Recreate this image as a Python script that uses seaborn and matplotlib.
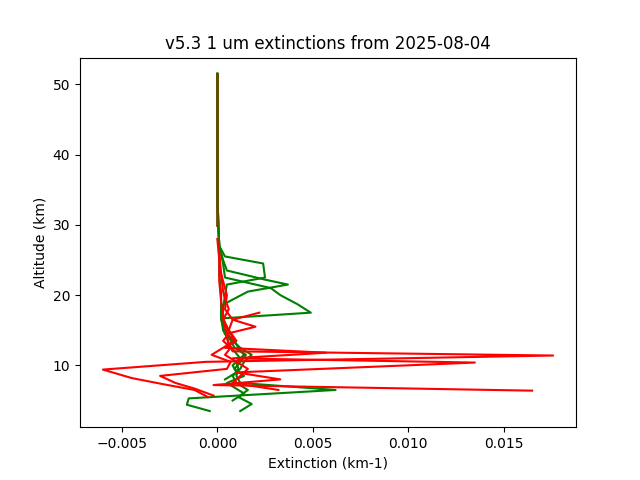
import matplotlib
matplotlib.use("Agg")
import matplotlib.pyplot as plt
import seaborn as sns
import pandas as pd

top = [27, 30, 35, 40, 45, 51.5]
topv = [0.0001, 0.00005, 0, 0, 0, 0]

g1_alt = [3.5, 4.4, 5.3, 6.5, 7.5, 8.5, 9.5, 10.5, 11.5, 12.5, 13.5, 14.5, 15.5, 16.7, 17.5, 18.7, 20.0, 21.0, 22.5, 24.5] + top
g1_val = [-0.0004, -0.0016, -0.0015, 0.0062, 0.0012, 0.0010, 0.0011, 0.0010, 0.0014, 0.0011, 0.0009, 0.0007, 0.0005, 0.0003, 0.0049, 0.0042, 0.0033, 0.0028, 0.0004, 0.0003] + topv
g2_alt = [3.5, 4.5, 5.5, 6.5, 7.5, 8.5, 9.5, 10.5, 11.5, 12.5, 13.5, 14.5, 16.5, 18.5, 20.5, 21.5, 22.2, 23.5, 25.0] + top
g2_val = [0.0012, 0.0018, 0.0011, 0.0016, 0.0010, 0.0008, 0.0012, 0.0014, 0.0018, 0.0012, 0.0008, 0.0004, 0.0002, 0.0002, 0.0016, 0.0037, 0.0025, 0.0005, 0.0003] + topv
g3_alt = [5.0, 6.0, 7.5, 8.5, 9.5, 10.5, 11.5, 12.5, 14.0, 16.0, 18.0, 20.0, 21.5, 22.5, 24.5, 25.5] + top
g3_val = [0.0008, 0.0014, 0.0005, 0.0014, 0.0009, 0.0012, 0.0015, 0.0009, 0.0006, 0.0003, 0.0003, 0.0004, 0.0005, 0.0025, 0.0024, 0.0004] + topv
g4_alt = [8.0, 9.0, 10.0, 11.0, 12.0, 13.0, 14.0, 15.0, 17.0, 20.0, 23.0, 25.0] + top
g4_val = [0.0004, 0.0010, 0.0008, 0.0012, 0.0009, 0.0006, 0.0005, 0.0003, 0.0002, 0.0002, 0.0001, 0.0001] + topv

r1_alt = [5.5, 6.5, 7.3, 8.2, 9.4, 10.5, 11.4, 12.0, 13.0, 14.0, 15.5, 17.0, 19.0, 22.0, 25.0, 28.0]
r1_val = [-0.0005, -0.0012, -0.0028, -0.0045, -0.0060, -0.0006, 0.0176, 0.0008, 0.0006, 0.0005, 0.0004, 0.0003, 0.0002, 0.0001, 0.0001, 0.0]
r2_alt = [6.4, 7.2, 8.0, 9.0, 10.4, 11.0, 11.8, 12.5, 13.5, 15.0, 16.5, 18.0, 20.0, 23.0, 26.0]
r2_val = [0.0165, -0.0002, 0.0033, 0.0010, 0.0135, 0.0008, 0.0057, 0.0004, 0.0010, 0.0006, 0.0008, 0.0004, 0.0005, 0.0002, 0.0001]
r3_alt = [5.7, 6.7, 7.5, 8.5, 9.5, 10.5, 11.5, 12.5, 13.5, 14.5, 15.5, 16.5, 17.5]
r3_val = [-0.0002, -0.0012, -0.0022, -0.0030, 0.0005, 0.0007, -0.0003, 0.0003, 0.0009, 0.0005, 0.0020, 0.0008, 0.0022]
r4_alt = [6.5, 7.5, 8.5, 9.5, 10.5, 11.5, 12.5, 13.5, 14.5, 15.5, 16.5, 18.0, 19.5, 20.5, 23.0]
r4_val = [0.0032, 0.0008, 0.0012, 0.0016, 0.0010, 0.0004, 0.0007, 0.0003, 0.0006, 0.0005, 0.0003, 0.0006, 0.0004, 0.0003, 0.0002]

brown_alt = [30, 51.5]
brown_val = [0, 0]

green = [(g1_alt, g1_val), (g2_alt, g2_val), (g3_alt, g3_val), (g4_alt, g4_val)]
red = [(r1_alt, r1_val), (r2_alt, r2_val), (r3_alt, r3_val), (r4_alt, r4_val)]

fig, ax = plt.subplots(figsize=(6.4, 4.8), dpi=100)
for a, v in green:
    sns.lineplot(x=v, y=a, sort=False, estimator=None, color="green", ax=ax)
for a, v in red:
    sns.lineplot(x=v, y=a, sort=False, estimator=None, color="red", ax=ax)
sns.lineplot(x=brown_val, y=brown_alt, sort=False, estimator=None, color="#6b4a00", lw=2, ax=ax)

ax.set_xlim(-0.0072, 0.0188)
ax.set_ylim(1.2, 53.8)
ax.set_xlabel("Extinction (km-1)")
ax.set_ylabel("Altitude (km)")
ax.set_title("v5.3 1 um extinctions from 2025-08-04")
fig.savefig("out.png", dpi=100)
